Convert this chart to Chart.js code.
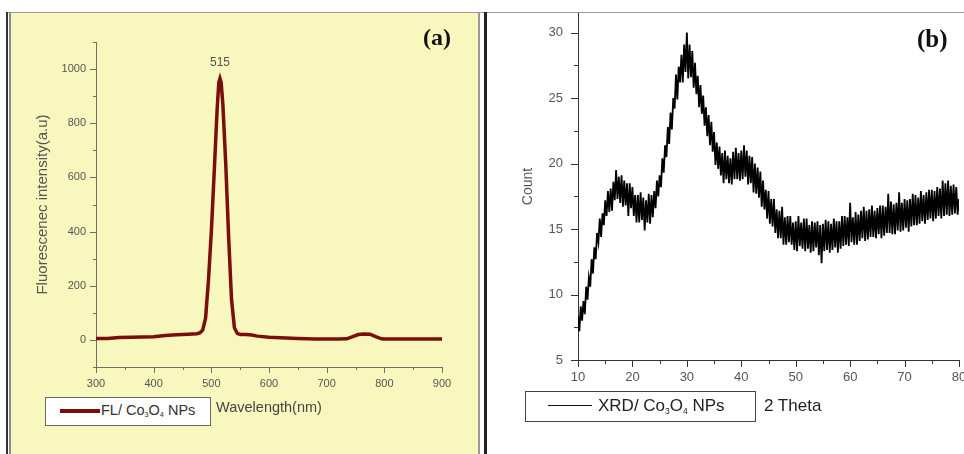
<!DOCTYPE html>
<html>
<head>
<meta charset="utf-8">
<script src="https://cdn.jsdelivr.net/npm/chart.js@4"></script>
<style>
  body { margin: 0; width: 964px; height: 454px; background: #fff; position: relative; overflow: hidden;
         font-family: "Liberation Sans", Arial, sans-serif; }
  .abs { position: absolute; }
  #panelA { position: absolute; left: 11px; top: 13px; width: 467px; height: 441px; background: #f8f8be; }
  #panelB { position: absolute; left: 487px; top: 13px; width: 477px; height: 441px; background: #fff; }
  canvas { display: block; }
  .tag { position: absolute; font-family: "Liberation Serif", "Times New Roman", serif; font-weight: bold; line-height: 1; color: #111; }
  .box { position: absolute; background: #fff; box-sizing: border-box; }
  .txt { position: absolute; white-space: nowrap; }
  .txt sub { font-size: 0.5em; vertical-align: -0.3em; line-height: 0; }
</style>
</head>
<body>

<!-- frame lines -->
<div class="abs" style="left:6px;top:12px;width:958px;height:1px;background:#9a9a9a"></div>
<div class="abs" style="left:6px;top:12px;width:2px;height:442px;background:#333"></div>
<div class="abs" style="left:9px;top:13px;width:2px;height:441px;background:#8c8c8c"></div>
<div class="abs" style="left:478px;top:13px;width:2px;height:441px;background:#999"></div>
<div class="abs" style="left:484px;top:12px;width:3px;height:442px;background:#222"></div>

<div id="panelA"><canvas id="fl" width="467" height="441"></canvas></div>
<div id="panelB"><canvas id="xrd" width="477" height="441"></canvas></div>

<div class="tag" style="left:423px;top:25px;font-size:24px">(a)</div>
<div class="tag" style="left:917px;top:26px;font-size:25px">(b)</div>

<!-- legend (a) -->
<div class="box" style="left:45px;top:397px;width:166px;height:29px;border:1px solid #666"></div>
<div class="abs" style="left:60px;top:409px;width:40px;height:4px;background:#7b0d0d"></div>
<div class="txt" style="left:101px;top:402px;font-size:14.5px;line-height:17px;color:#333">FL/ Co<sub>3</sub>O<sub>4</sub> NPs</div>

<!-- legend (b) -->
<div class="box" style="left:525px;top:391px;width:231px;height:31px;border:1px solid #444"></div>
<div class="abs" style="left:548px;top:405px;width:44px;height:1px;background:#111"></div>
<div class="txt" style="left:598px;top:396px;font-size:17px;line-height:20px;color:#222">XRD/ Co<sub>3</sub>O<sub>4</sub> NPs</div>
<div class="txt" style="left:764px;top:396px;font-size:17px;line-height:20px;color:#222">2 Theta</div>

<script>
// (a) fluorescence spectrum
const flWavelength = [300, 320, 340, 360, 380, 400, 420, 440, 460, 475, 480, 485, 490, 495, 500, 505, 510, 513, 515, 517,
  520, 525, 530, 535, 540, 545, 550, 560, 570, 580, 600, 620, 650, 680, 700, 720, 735, 745, 755, 765,
  775, 785, 795, 800, 850, 900]
const flIntensity = [5, 5, 9, 10, 11, 12, 16, 19, 21, 23, 26, 36, 80, 220, 400, 620, 850, 950, 965, 950,
  870, 650, 380, 150, 45, 24, 20, 20, 18, 14, 10, 8, 5, 3, 3, 3, 4, 12, 20, 22,
  21, 12, 4, 3, 3, 3]
const flXTicks = [300, 400, 500, 600, 700, 800, 900]
const flXMinor = [350, 450, 550, 650, 750, 850]
const flYTicks = [0, 200, 400, 600, 800, 1000]
const flYMinor = [-100, 100, 300, 500, 700, 900, 1100]

// (b) XRD pattern, 2 theta from 10 to 80 every 0.25
const xrdStart = 10
const xrdStep = 0.25
const xrdCounts = [
  8.4, 7.2, 9.1, 8.0, 9.5, 8.5, 10.6, 9.6, 11.3, 10.6, 12.7, 11.6, 13.6, 12.7, 14.7, 14.0,
  15.8, 14.4, 16.2, 15.3, 17.2, 16.0, 17.9, 16.3, 18.1, 16.4, 18.6, 17.2, 19.5, 17.3, 19.0, 17.0,
  19.1, 16.7, 18.7, 16.8, 18.5, 16.0, 18.5, 16.6, 18.2, 16.0, 17.6, 15.5, 17.6, 15.5, 17.8, 15.7,
  17.4, 14.9, 17.2, 15.5, 17.7, 15.4, 17.6, 15.9, 17.9, 16.6, 18.7, 17.5, 19.1, 18.2, 20.4, 19.3,
  21.4, 20.5, 22.8, 21.5, 23.9, 22.6, 25.0, 24.2, 26.8, 24.9, 27.4, 26.2, 28.3, 26.2, 29.1, 27.0,
  30.0, 26.5, 29.1, 26.6, 28.6, 25.8, 27.7, 25.3, 26.7, 24.3, 26.0, 23.8, 25.2, 22.9, 24.3, 22.1,
  23.7, 21.4, 23.2, 20.9, 22.4, 19.9, 21.6, 19.6, 21.3, 19.1, 20.8, 18.5, 21.0, 18.8, 20.6, 18.5,
  20.4, 18.4, 20.9, 18.8, 21.2, 18.8, 20.8, 18.7, 21.0, 18.8, 21.4, 19.0, 21.0, 18.4, 20.6, 18.5,
  20.5, 17.8, 20.0, 17.7, 19.7, 17.4, 19.4, 16.7, 18.7, 16.5, 18.0, 15.8, 17.9, 15.4, 17.3, 15.2,
  17.3, 14.7, 16.5, 14.3, 16.4, 14.3, 16.7, 13.8, 15.9, 13.8, 16.0, 14.0, 16.0, 13.8, 15.5, 13.4,
  15.6, 13.3, 16.0, 13.7, 15.5, 13.5, 15.8, 13.3, 15.8, 13.5, 15.3, 13.2, 15.6, 13.3, 15.5, 13.6,
  15.6, 13.0, 15.3, 12.4, 15.4, 13.3, 15.7, 13.4, 15.6, 13.2, 15.4, 13.4, 15.8, 13.6, 15.6, 13.2,
  15.6, 13.5, 16.0, 13.7, 16.0, 13.8, 15.9, 13.7, 17.0, 14.0, 15.9, 13.8, 16.3, 13.8, 16.1, 14.1,
  16.4, 14.3, 16.7, 14.1, 16.4, 14.2, 16.5, 14.4, 16.8, 14.4, 16.4, 14.3, 16.6, 14.6, 16.8, 14.3,
  16.8, 14.5, 16.7, 14.7, 17.7, 14.7, 17.1, 14.6, 16.9, 14.6, 17.0, 14.9, 17.8, 14.8, 17.0, 14.9,
  17.3, 15.1, 17.2, 14.8, 17.3, 15.2, 17.7, 15.3, 17.6, 15.3, 17.4, 15.4, 17.9, 15.6, 17.6, 15.4,
  17.8, 15.7, 18.0, 15.8, 18.0, 15.6, 17.9, 15.8, 18.2, 16.0, 18.1, 15.8, 18.7, 16.0, 18.5, 16.1,
  18.7, 16.0, 18.3, 16.1, 18.4, 16.2, 18.2, 16.1, 17.3
]
const xrdXTicks = [10, 20, 30, 40, 50, 60, 70, 80]
const xrdXMinor = [15, 25, 35, 45, 55, 65, 75]
const xrdYTicks = [5, 10, 15, 20, 25, 30]
const xrdYMinor = [7.5, 12.5, 17.5, 22.5, 27.5]

Chart.defaults.font.family = '"Liberation Sans", Arial, sans-serif'

// outward tick marks, long for labelled ticks and short for the ones between
const tickMarks = {
  id: 'tickMarks',
  afterDraw(chart, args, o) {
    const { ctx } = chart
    const x = chart.scales.x, y = chart.scales.y
    ctx.save()
    ctx.strokeStyle = o.color
    ctx.lineWidth = 1
    ctx.beginPath()
    const onX = (vals, len) => vals.forEach(v => {
      const px = Math.round(x.getPixelForValue(v)) + 0.5
      ctx.moveTo(px, x.top)
      ctx.lineTo(px, x.top + len)
    })
    const onY = (vals, len) => vals.forEach(v => {
      const py = Math.round(y.getPixelForValue(v)) + 0.5
      ctx.moveTo(y.right, py)
      ctx.lineTo(y.right - len, py)
    })
    onX(o.xMajor, o.major); onX(o.xMinor, o.minor)
    onY(o.yMajor, o.major); onY(o.yMinor, o.minor)
    ctx.stroke()
    ctx.restore()
  }
}

const peakLabel = {
  id: 'peakLabel',
  afterDatasetsDraw(chart, args, o) {
    const { ctx } = chart
    const top = Math.max(...flIntensity)
    const px = chart.scales.x.getPixelForValue(o.at)
    const py = chart.scales.y.getPixelForValue(top)
    ctx.save()
    ctx.fillStyle = '#555'
    ctx.font = '12px "Liberation Sans", Arial, sans-serif'
    ctx.textAlign = 'center'
    ctx.textBaseline = 'bottom'
    ctx.fillText(o.text, px, py - 10)
    ctx.restore()
  }
}

const setTicks = list => s => { s.ticks = list.map(v => ({ value: v })) }
const plain = v => String(v)

new Chart(document.getElementById('fl'), {
  type: 'line',
  data: {
    datasets: [{
      data: flWavelength.map((w, i) => ({ x: w, y: flIntensity[i] })),
      borderColor: '#7b0d0d',
      borderWidth: 3.5,
      pointRadius: 0,
      tension: 0
    }]
  },
  plugins: [tickMarks, peakLabel],
  options: {
    responsive: false,
    animation: false,
    layout: { padding: { top: 29, right: 36, left: 0, bottom: 0 } },
    plugins: {
      legend: { display: false },
      tooltip: { enabled: false },
      tickMarks: { color: '#6e6e6e', major: 6, minor: 3, xMajor: flXTicks, xMinor: flXMinor, yMajor: flYTicks, yMinor: flYMinor },
      peakLabel: { at: 515, text: '515' }
    },
    scales: {
      x: {
        type: 'linear', min: 300, max: 900,
        afterBuildTicks: setTicks(flXTicks),
        afterFit: s => { s.height = 87; s.paddingLeft = 0; s.paddingRight = 0 },
        grid: { display: false, drawTicks: false },
        border: { color: '#6e6e6e' },
        ticks: { padding: 10, color: '#555', font: { size: 11 }, maxRotation: 0, autoSkip: false, callback: plain },
        title: { display: true, text: 'Wavelength(nm)', color: '#444', font: { size: 14.5 }, padding: { top: 0, bottom: 37 } }
      },
      y: {
        type: 'linear', min: -100, max: 1100,
        afterBuildTicks: setTicks(flYTicks),
        afterFit: s => { s.width = 85; s.paddingTop = 0; s.paddingBottom = 0 },
        grid: { display: false, drawTicks: false },
        border: { color: '#6e6e6e' },
        ticks: { padding: 10, color: '#555', font: { size: 11 }, autoSkip: false, callback: plain },
        title: { display: true, text: 'Fluorescenec intensity(a.u)', color: '#555', font: { size: 15 }, padding: { top: 23, bottom: 0 } }
      }
    }
  }
})

new Chart(document.getElementById('xrd'), {
  type: 'line',
  data: {
    datasets: [{
      data: xrdCounts.map((c, i) => ({ x: xrdStart + i * xrdStep, y: c })),
      borderColor: '#000',
      borderWidth: 1.8,
      pointRadius: 0,
      tension: 0
    }]
  },
  plugins: [tickMarks],
  options: {
    responsive: false,
    animation: false,
    layout: { padding: { top: 0, right: 5, left: 0, bottom: 0 } },
    plugins: {
      legend: { display: false },
      tooltip: { enabled: false },
      tickMarks: { color: '#333', major: 7, minor: 4, xMajor: xrdXTicks, xMinor: xrdXMinor, yMajor: xrdYTicks, yMinor: xrdYMinor }
    },
    scales: {
      x: {
        type: 'linear', min: 10, max: 80,
        afterBuildTicks: setTicks(xrdXTicks),
        afterFit: s => { s.height = 94; s.paddingLeft = 0; s.paddingRight = 0 },
        grid: { display: false, drawTicks: false },
        border: { color: '#333' },
        ticks: { padding: 10, color: '#555', font: { size: 13 }, maxRotation: 0, autoSkip: false, callback: plain }
      },
      y: {
        type: 'linear', min: 5, max: 31.5,
        afterBuildTicks: setTicks(xrdYTicks),
        afterFit: s => { s.width = 91; s.paddingTop = 0; s.paddingBottom = 0 },
        grid: { display: false, drawTicks: false },
        border: { color: '#333' },
        ticks: { padding: 15, color: '#555', font: { size: 13 }, autoSkip: false, callback: plain },
        title: { display: true, text: 'Count', color: '#555', font: { size: 14 }, padding: { top: 33, bottom: 0 } }
      }
    }
  }
})
</script>
</body>
</html>
